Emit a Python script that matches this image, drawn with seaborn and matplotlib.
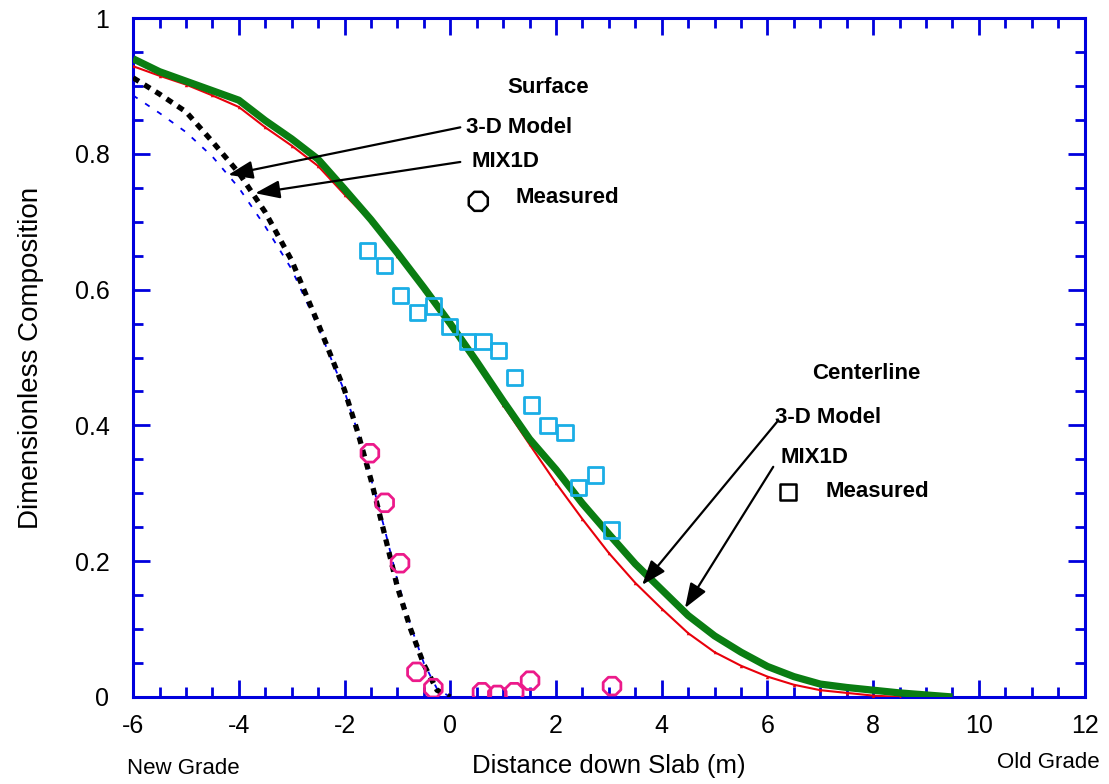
import numpy as np
import pandas as pd
import matplotlib
matplotlib.use("Agg")
import matplotlib.pyplot as plt
from matplotlib.ticker import MultipleLocator, FuncFormatter
import seaborn as sns

# Centerline profiles
center_x = [-6, -5.5, -5, -4.5, -4, -3.5, -3, -2.5, -2, -1.5, -1, -0.5, 0, 0.5, 1, 1.5,
            2, 2.5, 3, 3.5, 4, 4.5, 5, 5.5, 6, 6.5, 7, 7.5, 8, 8.5, 9, 9.5]
center_3d = [0.94, 0.921, 0.907, 0.893, 0.879, 0.849, 0.822, 0.792, 0.748, 0.703, 0.654,
             0.603, 0.55, 0.494, 0.436, 0.38, 0.335, 0.285, 0.24, 0.196, 0.158, 0.12,
             0.09, 0.066, 0.045, 0.03, 0.019, 0.014, 0.01, 0.006, 0.003, 0.0]
mix_x = [-6, -5.5, -5, -4.5, -4, -3.5, -3, -2.5, -2, -1.5, -1, -0.5, 0, 0.5, 1, 1.5,
         2, 2.5, 3, 3.5, 4, 4.5, 5, 5.5, 6, 6.5, 7, 7.5, 8, 8.5]
center_mix = [0.929, 0.915, 0.902, 0.886, 0.869, 0.839, 0.812, 0.782, 0.74, 0.70, 0.65,
              0.60, 0.55, 0.49, 0.43, 0.372, 0.315, 0.262, 0.212, 0.168, 0.13, 0.094,
              0.066, 0.046, 0.03, 0.018, 0.01, 0.006, 0.002, 0.0]

# Surface profiles
surf_x = [-6, -5.5, -5, -4.5, -4, -3.5, -3, -2.5, -2, -1.75, -1.5, -1.25, -1, -0.75,
          -0.5, -0.25, 0]
surf_3d = [0.912, 0.888, 0.862, 0.818, 0.772, 0.714, 0.643, 0.55, 0.452, 0.39, 0.32,
           0.242, 0.162, 0.1, 0.048, 0.01, 0.0]
surf_mix = [0.886, 0.86, 0.832, 0.796, 0.75, 0.693, 0.63, 0.545, 0.45, 0.39, 0.322,
            0.25, 0.172, 0.105, 0.05, 0.012, 0.0]

# Measured values
surf_meas_x = [-1.52, -1.24, -0.95, -0.64, -0.32, 0.6, 0.89, 1.21, 1.51, 3.06]
surf_meas_y = [0.359, 0.286, 0.197, 0.037, 0.013, 0.007, 0.003, 0.007, 0.024, 0.016]
center_meas_x = [-1.57, -1.25, -0.94, -0.62, -0.32, -0.02, 0.32, 0.62, 0.91, 1.21,
                 1.53, 1.85, 2.17, 2.43, 2.75, 3.05]
center_meas_y = [0.658, 0.636, 0.591, 0.566, 0.576, 0.546, 0.524, 0.524, 0.51, 0.47,
                 0.43, 0.40, 0.39, 0.308, 0.327, 0.246]

x_ticks = [-6, -4, -2, 0, 2, 4, 6, 8, 10, 12]
y_ticks = [0, 0.2, 0.4, 0.6, 0.8, 1]

sns.set_style("white")
plt.rcParams["font.family"] = ["Liberation Sans", "DejaVu Sans"]
plt.rcParams["text.color"] = "black"
plt.rcParams["axes.labelcolor"] = "black"

AXIS_BLUE = "#0000dd"
GREEN = "#0a7d12"
RED = "#e8000b"
CYAN = "#1aaee6"
PINK = "#ec1a8a"

fig = plt.figure(figsize=(11.09, 7.84), dpi=100)
ax = fig.add_axes([0.12, 0.111, 0.858, 0.866])

sns.lineplot(x=mix_x, y=center_mix, ax=ax, color=RED, lw=1.5, marker="^",
             markersize=2.5, markeredgewidth=0, zorder=3)
sns.lineplot(x=center_x, y=center_3d, ax=ax, color=GREEN, lw=5.2, zorder=4,
             solid_capstyle="butt")
sns.lineplot(x=surf_x, y=surf_mix, ax=ax, color="#0000ee", lw=1.3,
             linestyle=(0, (3, 5)), zorder=3)
sns.lineplot(x=surf_x, y=surf_3d, ax=ax, color="black", lw=3.8,
             linestyle=(0, (1.3, 1.2)), zorder=4)

sns.scatterplot(x=center_meas_x, y=center_meas_y, ax=ax, marker="s", s=120,
                facecolor="none", edgecolor=CYAN, linewidth=2, zorder=5)
sns.scatterplot(x=surf_meas_x, y=surf_meas_y, ax=ax, marker="8", s=190,
                facecolor="none", edgecolor=PINK, linewidth=2, zorder=6)

ax.set_xlim(-6, 12)
ax.set_ylim(0, 1)
ax.xaxis.set_minor_locator(MultipleLocator(0.5))
ax.yaxis.set_minor_locator(MultipleLocator(0.05))
ax.set_xticks(x_ticks)
ax.set_yticks(y_ticks)
ax.yaxis.set_major_formatter(FuncFormatter(lambda v, p: f"{v:g}"))
ax.xaxis.set_major_formatter(FuncFormatter(lambda v, p: f"{v:g}"))

for s in ax.spines.values():
    s.set_visible(True)
    s.set_color(AXIS_BLUE)
    s.set_linewidth(2.2)
ax.tick_params(which="both", direction="in", top=True, right=True, bottom=True,
               left=True, color=AXIS_BLUE, width=2.0, labelsize=18,
               labelcolor="black")
ax.tick_params(which="major", length=12)
ax.tick_params(which="minor", length=7)
ax.tick_params(axis="y", which="major", pad=17)
ax.tick_params(axis="x", which="major", pad=12)

ax.set_xlabel("Distance down Slab (m)", fontsize=18.5, labelpad=12)
ax.set_ylabel("Dimensionless Composition", fontsize=20, labelpad=22)

fig.text(127 / 1109, 1 - 768 / 784, "New Grade", fontsize=16, ha="left", va="center")
fig.text(1100 / 1109, 1 - 763 / 784, "Old Grade", fontsize=16, ha="right", va="center")

# Surface annotations
bold = dict(fontsize=16, fontweight="bold", va="center", color="black")
ax.text(1.85, 0.898, "Surface", ha="center", **bold)
ax.text(0.30, 0.839, "3-D Model", ha="left", **bold)
ax.text(0.40, 0.789, "MIX1D", ha="left", **bold)
ax.text(1.23, 0.735, "Measured", ha="left", **bold)
sns.scatterplot(x=[0.53], y=[0.730], ax=ax, marker="8", s=220, facecolor="none",
                edgecolor="black", linewidth=1.8, zorder=6)

arrow = dict(arrowstyle="-|>,head_length=1.5,head_width=0.55", color="black",
             lw=1.6, shrinkA=0, shrinkB=0)
ax.annotate("", xy=(-4.20, 0.769), xytext=(0.19, 0.839), arrowprops=arrow, zorder=7)
ax.annotate("", xy=(-3.69, 0.742), xytext=(0.19, 0.788), arrowprops=arrow, zorder=7)

# Centerline annotations
ax.text(7.88, 0.477, "Centerline", ha="center", **bold)
ax.text(6.14, 0.411, "3-D Model", ha="left", **bold)
ax.text(6.24, 0.353, "MIX1D", ha="left", **bold)
ax.text(7.09, 0.302, "Measured", ha="left", **bold)
sns.scatterplot(x=[6.39], y=[0.302], ax=ax, marker="s", s=130, facecolor="none",
                edgecolor="black", linewidth=1.8, zorder=6)
ax.annotate("", xy=(3.63, 0.165), xytext=(6.18, 0.405), arrowprops=arrow, zorder=7)
ax.annotate("", xy=(4.44, 0.131), xytext=(6.11, 0.339), arrowprops=arrow, zorder=7)

fig.savefig("out.png", dpi=100)
